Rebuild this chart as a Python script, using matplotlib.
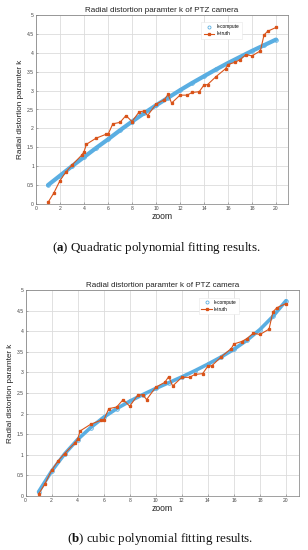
import numpy as np
import matplotlib as mpl
import matplotlib.pyplot as plt
from matplotlib.lines import Line2D

# measured k (same in both panels)
zoom_truth = [1, 1.5, 2, 2.5, 3, 3.8, 4, 4.2, 5, 5.8, 6, 6.4, 7, 7.5, 8, 8.6, 9, 9.3,
              10, 10.7, 11, 11.3, 12, 12.6, 13, 13.6, 14, 14.3, 15, 15.8, 16, 16.6,
              17, 17.5, 18, 18.7, 19, 19.3, 20]
k_truth = [0.04, 0.30, 0.62, 0.85, 1.03, 1.29, 1.38, 1.58, 1.74, 1.84, 1.84, 2.12,
           2.16, 2.34, 2.18, 2.44, 2.46, 2.34, 2.64, 2.76, 2.90, 2.67, 2.88, 2.88,
           2.95, 2.97, 3.15, 3.16, 3.37, 3.58, 3.69, 3.75, 3.82, 3.95, 3.92, 4.05,
           4.47, 4.57, 4.67]

# fitted k
zoom_fit = list(range(1, 21))
k_quad = [0.50, 0.75, 1.00, 1.24, 1.48, 1.71, 1.95, 2.18, 2.40, 2.61, 2.81, 3.01,
          3.20, 3.38, 3.56, 3.73, 3.89, 4.05, 4.20, 4.35]
k_cubic = [0.10, 0.60, 1.02, 1.37, 1.66, 1.91, 2.12, 2.30, 2.46, 2.61, 2.75, 2.89,
           3.04, 3.20, 3.37, 3.56, 3.78, 4.04, 4.36, 4.74]

BLUE = "#5aaee2"
ORANGE = "#d95319"
GRID = "#dcdcdc"
EDGE = "#7a7a7a"
TXT = "#444444"

mpl.rcParams.update({
    "font.family": "Liberation Sans",
    "mathtext.fontset": "custom",
    "mathtext.bf": "Liberation Serif:bold",
    "mathtext.rm": "Liberation Serif",
})

fig = plt.figure(figsize=(3.08, 5.50), dpi=100)
ax_a = fig.add_axes([36 / 308, 1 - 204 / 550, 252 / 308, 189 / 550])
ax_b = fig.add_axes([25.5 / 308, 1 - 496 / 550, 273.5 / 308, 206 / 550])


def draw(ax, k_fit, lw, anchor):
    ax.plot(zoom_fit, k_fit, "-", color=BLUE, lw=lw, solid_capstyle="round", zorder=2)
    ax.plot(zoom_fit, k_fit, "o", color=BLUE, ms=2.6, mfc="none", mew=0.6, zorder=2)
    ax.plot(zoom_truth, k_truth, "-", color=ORANGE, lw=0.8, marker="s", ms=1.4,
            zorder=3)
    ax.set_xlim(0, 21)
    ax.set_ylim(0, 5)
    ax.set_xticks(np.arange(0, 21, 2))
    ax.set_yticks(np.arange(0, 5.01, 0.5))
    ax.set_yticklabels(["0", "0.5", "1", "1.5", "2", "2.5", "3", "3.5", "4", "4.5", "5"])
    ax.grid(True, color=GRID, lw=0.6)
    ax.set_axisbelow(True)
    ax.tick_params(direction="in", length=1.5, width=0.4, labelsize=3.6,
                   colors=EDGE, labelcolor=TXT, pad=1.5)
    for s in ax.spines.values():
        s.set_color(EDGE)
        s.set_linewidth(0.5)
    ax.set_title("Radial distortion paramter k of PTZ camera", fontsize=5.8,
                 color="#222222", pad=2.5)
    ax.set_xlabel("zoom", fontsize=6.2, color="#222222", labelpad=1)
    ax.set_ylabel("Radial distortion paramter k", fontsize=5.9, color="#222222",
                  labelpad=2)
    handles = [
        Line2D([], [], ls="none", marker="o", color=BLUE, mfc="none", ms=2.2, mew=0.6),
        Line2D([], [], color=ORANGE, lw=0.8, marker="s", ms=1.4),
    ]
    leg = ax.legend(handles, ["k-compute", "k-truth"], loc="upper right",
                    bbox_to_anchor=anchor, fontsize=3.4, handlelength=2.2,
                    handletextpad=0.5, borderpad=0.5, labelspacing=0.4,
                    fancybox=False, framealpha=1)
    leg.get_frame().set_edgecolor("#e6e6e6")
    leg.get_frame().set_linewidth(0.4)


draw(ax_a, k_quad, 3.0, (0.825, 0.975))
draw(ax_b, k_cubic, 2.6, (0.79, 0.975))

fig.text(156 / 308, 1 - 248 / 550, r"($\mathbf{a}$) Quadratic polynomial fitting results.",
         ha="center", va="center", fontsize=9.4, family="Liberation Serif", color="#111111")
fig.text(160 / 308, 1 - 539 / 550, r"($\mathbf{b}$) cubic polynomial fitting results.",
         ha="center", va="center", fontsize=9.4, family="Liberation Serif", color="#111111")

fig.savefig("out.png", dpi=100)
